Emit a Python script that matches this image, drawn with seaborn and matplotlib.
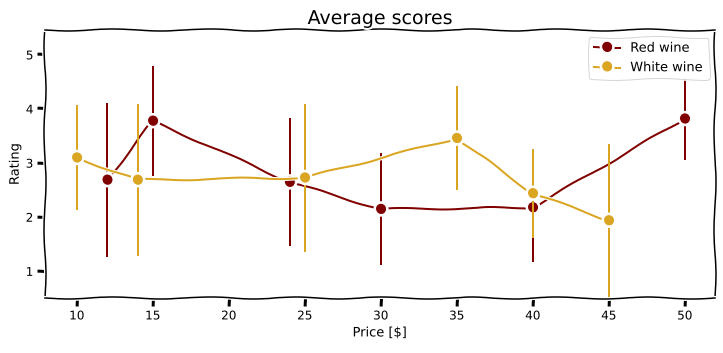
import numpy as np
import seaborn as sns
import matplotlib.pyplot as plt

red_price = [12, 15, 24, 30, 40, 50]
red_mean = [2.68, 3.77, 2.64, 2.14, 2.17, 3.81]
red_err = [1.43, 1.02, 1.18, 1.03, 1.01, 0.77]

white_price = [10, 14, 25, 35, 40, 45]
white_mean = [3.09, 2.68, 2.72, 3.45, 2.43, 1.93]
white_err = [0.97, 1.40, 1.37, 0.96, 0.83, 1.42]

colors = ["#800000", "#DAA520"]
labels = ["Red wine", "White wine"]

sns.set_palette(colors)
plt.xkcd()
plt.rcParams["font.family"] = ["DejaVu Sans"]
np.random.seed(3)

fig, ax = plt.subplots(figsize=(723 / 72, 353 / 72), dpi=72)
fig.subplots_adjust(left=0.062, right=0.989, top=0.915, bottom=0.156)

series = [(red_price, red_mean, red_err), (white_price, white_mean, white_err)]
for i, ((px, mean, err), c, lab) in enumerate(zip(series, colors, labels)):
    cont = ax.errorbar(px, mean, yerr=err, fmt="-o", color=c, ecolor=c,
                       elinewidth=2, lw=2, markersize=11,
                       markeredgecolor="white", markeredgewidth=1,
                       label=lab, zorder=2 + i)
    for bars in cont[2]:
        bars.set_sketch_params(scale=None)

ax.set_xlim(7.9, 52)
ax.set_ylim(0.5, 5.45)
ax.set_xticks(range(10, 51, 5))
ax.set_yticks(range(1, 6))
ax.tick_params(labelsize=12)
ax.set_xlabel("Price [$]", fontsize=13)
ax.set_ylabel("Rating", fontsize=13)
ax.set_title("Average scores", fontsize=19)
ax.legend(loc="upper right", fontsize=13)

fig.savefig("out.png", dpi=72)
